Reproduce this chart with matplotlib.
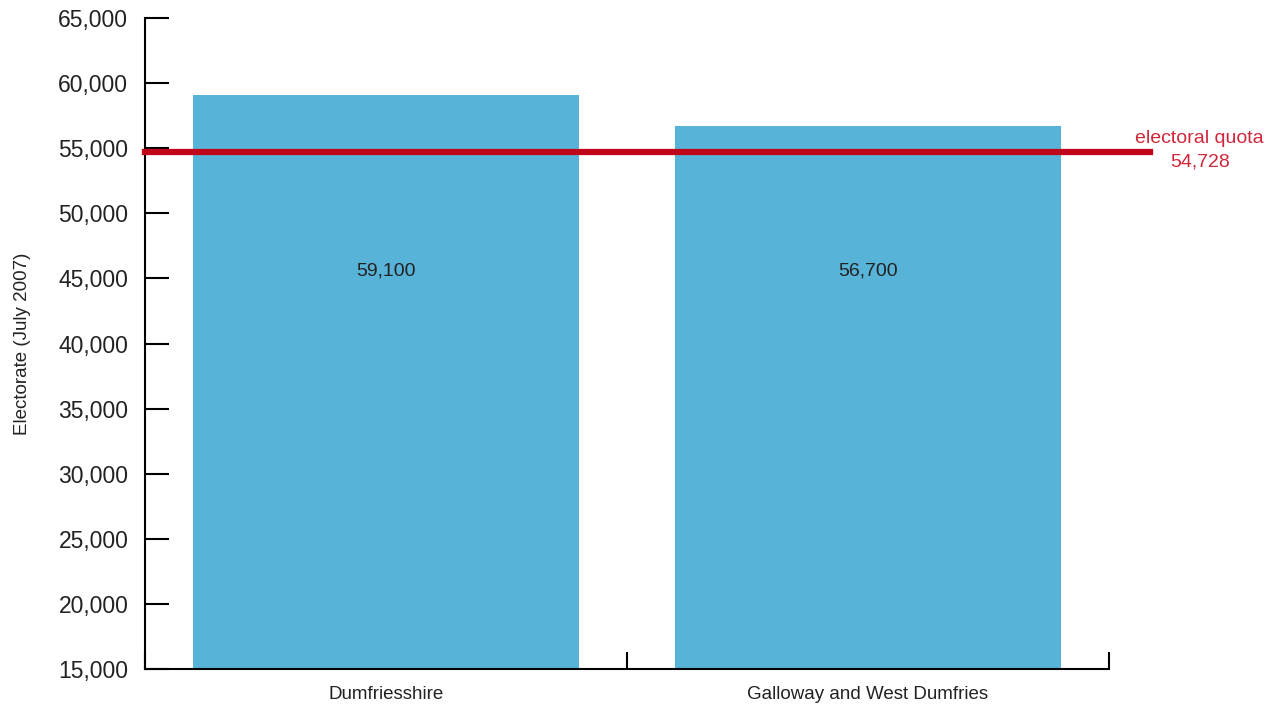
import matplotlib.pyplot as plt
from matplotlib.ticker import FuncFormatter, MultipleLocator, FixedLocator

plt.rcParams['font.family'] = ['Liberation Sans', 'DejaVu Sans']

# data
constituencies = ['Dumfriesshire', 'Galloway and West Dumfries']
electorate = [59100, 56700]
quota = 54728
bar_labels = ['59,100', '56,700']

bar_color = '#58b3d8'
quota_color = '#c0061b'

fig, ax = plt.subplots(figsize=(12.77, 7.04), dpi=100)
fig.subplots_adjust(left=145/1277, right=1109/1277, bottom=1-669/704, top=1-18/704)

x = list(range(len(constituencies)))
ax.bar(x, electorate, width=0.8, color=bar_color, zorder=2)

# bar value labels, placed in the middle of the bars
for xi, lab in zip(x, bar_labels):
    ax.text(xi, 0.611, lab, transform=ax.get_xaxis_transform(),
            ha='center', va='center', fontsize=14, color='#222222')

# quota line, running a bit past the right end of the axis
ax.axhline(quota, xmin=0, xmax=1.0425, color=quota_color, linewidth=4.5,
           clip_on=False, zorder=3)
ax.text(1.094, quota + 1000, 'electoral quota', transform=ax.get_yaxis_transform(),
        ha='center', va='center', fontsize=14, color='#d0273a')
ax.text(1.094, quota - 800, f'{quota:,}', transform=ax.get_yaxis_transform(),
        ha='center', va='center', fontsize=14, color='#d0273a')

ax.set_ylim(15000, 65000)
ax.set_xlim(-0.5, len(constituencies) - 0.5)
ax.yaxis.set_major_locator(MultipleLocator(5000))
ax.yaxis.set_major_formatter(FuncFormatter(lambda v, p: f'{int(v):,}'))

ax.set_xticks(x)
ax.set_xticklabels(constituencies)
ax.xaxis.set_minor_locator(FixedLocator([-0.5, 0.5, 1.5]))

ax.spines['top'].set_visible(False)
ax.spines['right'].set_visible(False)
for s in ['left', 'bottom']:
    ax.spines[s].set_linewidth(1.5)
    ax.spines[s].set_color('black')

ax.tick_params(axis='y', direction='in', length=17, width=1.5, labelsize=16.5,
               pad=12, labelcolor='#222222')
ax.tick_params(axis='x', which='major', length=0, labelsize=13.5, pad=12,
               labelcolor='#222222')
ax.tick_params(axis='x', which='minor', direction='in', length=12, width=1.5)

ax.set_ylabel('Electorate (July 2007)', fontsize=13.5, color='#222222', labelpad=20)

plt.savefig('out.png', dpi=100)
